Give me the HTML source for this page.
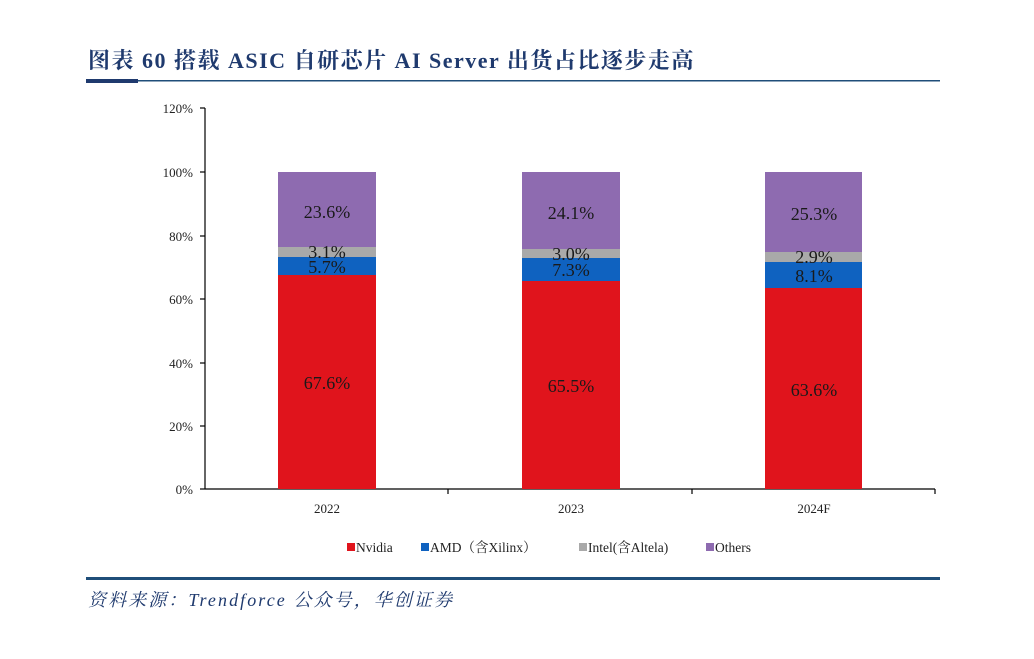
<!DOCTYPE html>
<html><head><meta charset="utf-8"><style>
html,body{margin:0;padding:0;background:#fff;width:1034px;height:659px;overflow:hidden}
svg{display:block}
</style></head><body>
<svg width="1034" height="659" xmlns="http://www.w3.org/2000/svg">
<rect width="1034" height="659" fill="#fff"/>
<text x="88" y="68" font-family="Liberation Serif, Noto Serif CJK SC, serif" font-weight="bold" font-size="22" letter-spacing="1.6" fill="#1f3a6e" textLength="607" lengthAdjust="spacing">图表 60 搭载 ASIC 自研芯片 AI Server 出货占比逐步走高</text>
<rect x="86" y="80" width="854" height="1.5" fill="#1f4e79"/>
<rect x="86" y="79" width="52" height="4" fill="#1f3a6e"/>
<g font-family="Liberation Serif, serif" font-size="13" fill="#222" text-anchor="end">
<text x="193" y="113">120%</text><text x="193" y="177">100%</text><text x="193" y="241">80%</text>
<text x="193" y="304">60%</text><text x="193" y="368">40%</text><text x="193" y="431">20%</text><text x="193" y="494">0%</text>
</g>
<g stroke="#000" stroke-width="1.2">
<line x1="205" y1="108" x2="205" y2="489"/>
<line x1="205" y1="489" x2="935" y2="489"/>
<line x1="200" y1="108" x2="205" y2="108"/><line x1="200" y1="172" x2="205" y2="172"/>
<line x1="200" y1="236" x2="205" y2="236"/><line x1="200" y1="299" x2="205" y2="299"/>
<line x1="200" y1="363" x2="205" y2="363"/><line x1="200" y1="426" x2="205" y2="426"/>
<line x1="200" y1="489" x2="205" y2="489"/>
<line x1="448" y1="489" x2="448" y2="494"/><line x1="692" y1="489" x2="692" y2="494"/><line x1="935" y1="489" x2="935" y2="494"/>
</g>
<rect x="278" y="172" width="98" height="75" fill="#8e6bb0"/>
<rect x="278" y="247" width="98" height="10" fill="#a9a9a9"/>
<rect x="278" y="257" width="98" height="18" fill="#0f62c0"/>
<rect x="278" y="275" width="98" height="214" fill="#e0141c"/>
<rect x="522" y="172" width="98" height="77" fill="#8e6bb0"/>
<rect x="522" y="249" width="98" height="9" fill="#a9a9a9"/>
<rect x="522" y="258" width="98" height="23" fill="#0f62c0"/>
<rect x="522" y="281" width="98" height="208" fill="#e0141c"/>
<rect x="765" y="172" width="97" height="80" fill="#8e6bb0"/>
<rect x="765" y="252" width="97" height="10" fill="#a9a9a9"/>
<rect x="765" y="262" width="97" height="26" fill="#0f62c0"/>
<rect x="765" y="288" width="97" height="201" fill="#e0141c"/>
<g font-family="Liberation Serif, serif" font-size="18" fill="#1a1a1a" text-anchor="middle">
<text x="327" y="218">23.6%</text><text x="327" y="258">3.1%</text><text x="327" y="273">5.7%</text><text x="327" y="389">67.6%</text>
<text x="571" y="219">24.1%</text><text x="571" y="260">3.0%</text><text x="571" y="276">7.3%</text><text x="571" y="392">65.5%</text>
<text x="814" y="220">25.3%</text><text x="814" y="263">2.9%</text><text x="814" y="282">8.1%</text><text x="814" y="396">63.6%</text>
</g>
<g font-family="Liberation Serif, serif" font-size="13" fill="#222" text-anchor="middle">
<text x="327" y="513">2022</text><text x="571" y="513">2023</text><text x="814" y="513">2024F</text>
</g>
<g font-family="Liberation Serif, Noto Serif CJK SC, serif" font-size="13.5" fill="#222">
<rect x="347" y="543" width="8" height="8" fill="#e0141c"/><text x="356" y="552">Nvidia</text>
<rect x="421" y="543" width="8" height="8" fill="#0f62c0"/><text x="430" y="552">AMD（含Xilinx）</text>
<rect x="579" y="543" width="8" height="8" fill="#a9a9a9"/><text x="588" y="552">Intel(含Altela)</text>
<rect x="706" y="543" width="8" height="8" fill="#8e6bb0"/><text x="715" y="552">Others</text>
</g>
<rect x="86" y="577" width="854" height="3" fill="#1f4e79"/>
<text x="88" y="606" font-family="Liberation Serif, Noto Serif CJK SC, serif" font-style="italic" font-size="18" fill="#1f3a6e" textLength="364" lengthAdjust="spacing">资料来源：Trendforce 公众号，华创证券</text>
</svg>
</body></html>
